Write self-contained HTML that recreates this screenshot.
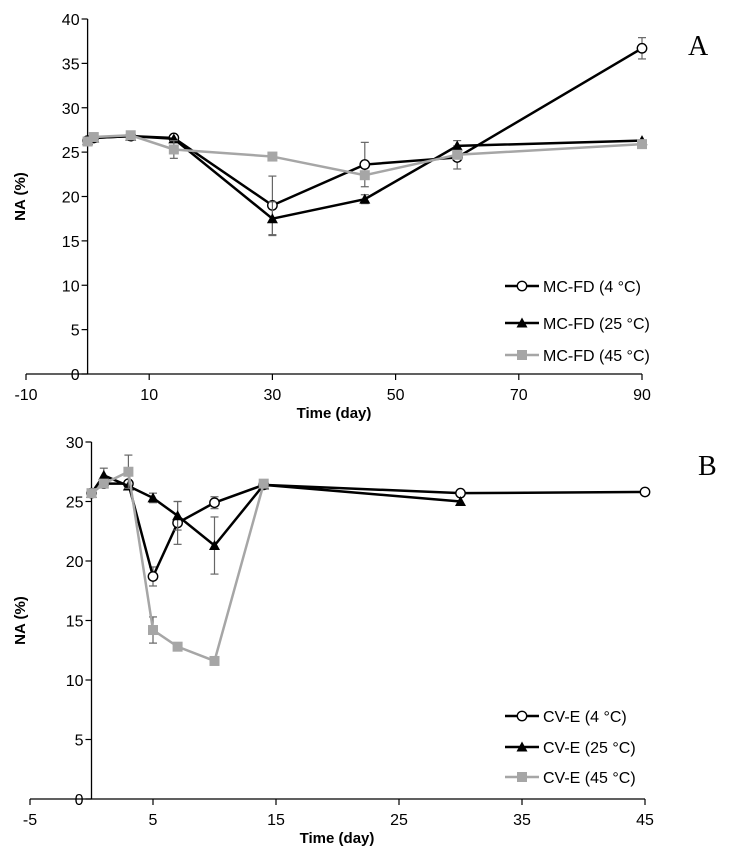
<!DOCTYPE html>
<html><head><meta charset="utf-8"><style>
body{margin:0;background:#fff}
svg text{font-family:"Liberation Sans",sans-serif}
</style></head><body>
<svg id="c" width="731" height="860" xmlns="http://www.w3.org/2000/svg"></svg>
<script>
// Panel A data
const daysA=[0,1,7,14,30,45,60,90];
const a4=[26.3,26.6,26.8,26.6,19.0,23.6,24.4,36.7];
const a4e=[0.3,0.3,0.4,0.3,3.3,2.5,1.3,1.2];
const a25=[26.3,26.6,26.8,26.5,17.5,19.7,25.7,26.3];
const a25e=[0.3,0.3,0.4,0.3,1.9,0.5,0.6,0.3];
const a45=[26.2,26.7,26.9,25.3,24.5,22.4,24.7,25.9];
const a45e=[0.3,0.3,0.4,1.0,0.3,0.4,0.4,0.3];
const xTicksA=[-10,10,30,50,70,90];
const yTicksA=[0,5,10,15,20,25,30,35,40];
// Panel B data
const daysB=[0,1,3,5,7,10,14,30,45];
const b4=[25.7,26.5,26.5,18.7,23.2,24.9,26.4,25.7,25.8];
const b4e=[0.3,0.3,0.3,0.8,1.8,0.5,0.2,0.2,0.2];
const daysB25=[0,1,3,5,7,10,14,30];
const b25=[25.7,27.2,26.3,25.3,23.8,21.3,26.4,25.0];
const b25e=[0.3,0.6,0.3,0.4,1.2,2.4,0.2,0.2];
const daysB45=[0,1,3,5,7,10,14];
const b45=[25.7,26.5,27.5,14.2,12.8,11.6,26.5];
const b45e=[0.3,0.3,1.4,1.1,0.2,0.2,0.2];
const xTicksB=[-5,5,15,25,35,45];
const yTicksB=[0,5,10,15,20,25,30];

const svg=document.getElementById('c');
const NS='http://www.w3.org/2000/svg';
function mk(t,a,p){const e=document.createElementNS(NS,t);for(const k in a)e.setAttribute(k,a[k]);(p||svg).appendChild(e);return e;}
const GRAY='#a6a6a6';

function panel(o){
  const g=mk('g',{});
  
  
  const X=v=>o.x0+(v-o.xmin)*(o.x1-o.x0)/(o.xmax-o.xmin);
  const Y=v=>o.y0-(v-o.ymin)*(o.y0-o.y1)/(o.ymax-o.ymin);
  const ya=mk('line',{x1:X(0),x2:X(0),y1:Y(o.ymax),y2:Y(0),stroke:'#000','stroke-width':1.3},g);
  
  const xa=mk('line',{x1:X(o.xmin),x2:X(o.xmax),y1:Y(0),y2:Y(0),stroke:'#000','stroke-width':1.3},g);
  
  o.yt.forEach(v=>{
    mk('line',{x1:X(0)-6,x2:X(0),y1:Y(v),y2:Y(v),stroke:'#000','stroke-width':1.2},g);
    const t=mk('text',{x:X(0)-8,y:Y(v)+6,'text-anchor':'end','font-size':16,fill:'#000'},g);
    t.textContent=v;
    
  });
  o.xt.forEach(v=>{
    mk('line',{x1:X(v),x2:X(v),y1:Y(0),y2:Y(0)+6,stroke:'#000','stroke-width':1.2},g);
    const t=mk('text',{x:X(v),y:Y(0)+26,'text-anchor':'middle','font-size':16,fill:'#000'},g);
    t.textContent=v;
    
  });
  const xt=mk('text',{x:o.xtitle,y:Y(0)+44,'text-anchor':'middle','font-size':15,'font-weight':'bold'},g);
  xt.textContent='Time (day)';
  
  const yy=(Y(0)+Y(o.ymax))/2;
  const ytt=mk('text',{x:25,y:yy,'text-anchor':'middle','font-size':15,'font-weight':'bold',transform:`rotate(-90 25 ${yy})`},g);
  ytt.textContent='NA (%)';
  
  const L=mk('text',{x:o.lx,y:o.ly,'font-size':28,style:'font-family:"Liberation Serif",serif'},g);
  L.textContent=o.letter;
  
  function marker(type,cx,cy,col,pg){
    let m;
    if(type==='circle')m=mk('circle',{cx:cx,cy:cy,r:4.7,fill:'#fff',stroke:'#000','stroke-width':1.4},pg);
    else if(type==='tri')m=mk('polygon',{points:`${cx},${cy-5.5} ${cx-5.5},${cy+4.5} ${cx+5.5},${cy+4.5}`,fill:'#000'},pg);
    else m=mk('rect',{x:cx-5,y:cy-5,width:10,height:10,fill:col},pg);
    return m;
  }
  o.series.forEach(s=>{
    const sg=mk('g',{},g);
    
    s.d.forEach((v,i)=>{
      const e=s.e[i];if(e<=0.35)return;
      const x=X(s.x[i]);
      mk('line',{x1:x,x2:x,y1:Y(v-e),y2:Y(v+e),stroke:'#666','stroke-width':1.2},sg);
      mk('line',{x1:x-4,x2:x+4,y1:Y(v-e),y2:Y(v-e),stroke:'#666','stroke-width':1.2},sg);
      mk('line',{x1:x-4,x2:x+4,y1:Y(v+e),y2:Y(v+e),stroke:'#666','stroke-width':1.2},sg);
    });
    const pts=s.d.map((v,i)=>X(s.x[i])+','+Y(v)).join(' ');
    const pl=mk('polyline',{points:pts,fill:'none',stroke:s.col,'stroke-width':2.5},sg);
    
    s.d.forEach((v,i)=>{
      const m=marker(s.m,X(s.x[i]),Y(v),s.col,sg);
      
    });
  });
  o.series.forEach((s,i)=>{
    const lg=mk('g',{},g);
    
    const y=o.legY[i];
    mk('line',{x1:505,x2:539,y1:y,y2:y,stroke:s.col,'stroke-width':2.5},lg);
    marker(s.m,522,y,s.col,lg);
    const t=mk('text',{x:543,y:y+6,'font-size':16},lg);
    t.textContent=s.label;
  });
}
panel({name:'panel-a',letter:'A',lx:688,ly:55,xmin:-10,xmax:90,ymin:0,ymax:40,x0:26,x1:642,y0:374,y1:19,xt:xTicksA,yt:yTicksA,xtitle:334,legY:[286,323,355],
  series:[
    {id:'mcfd-4',label:'MC-FD (4 °C)',x:daysA,d:a4,e:a4e,col:'#000',m:'circle'},
    {id:'mcfd-25',label:'MC-FD (25 °C)',x:daysA,d:a25,e:a25e,col:'#000',m:'tri'},
    {id:'mcfd-45',label:'MC-FD (45 °C)',x:daysA,d:a45,e:a45e,col:GRAY,m:'square'}]});
panel({name:'panel-b',letter:'B',lx:698,ly:475,xmin:-5,xmax:45,ymin:0,ymax:30,x0:30,x1:645,y0:799,y1:442,xt:xTicksB,yt:yTicksB,xtitle:337,legY:[716,747,777],
  series:[
    {id:'cve-4',label:'CV-E (4 °C)',x:daysB,d:b4,e:b4e,col:'#000',m:'circle'},
    {id:'cve-25',label:'CV-E (25 °C)',x:daysB25,d:b25,e:b25e,col:'#000',m:'tri'},
    {id:'cve-45',label:'CV-E (45 °C)',x:daysB45,d:b45,e:b45e,col:GRAY,m:'square'}]});
</script>
</body></html>
